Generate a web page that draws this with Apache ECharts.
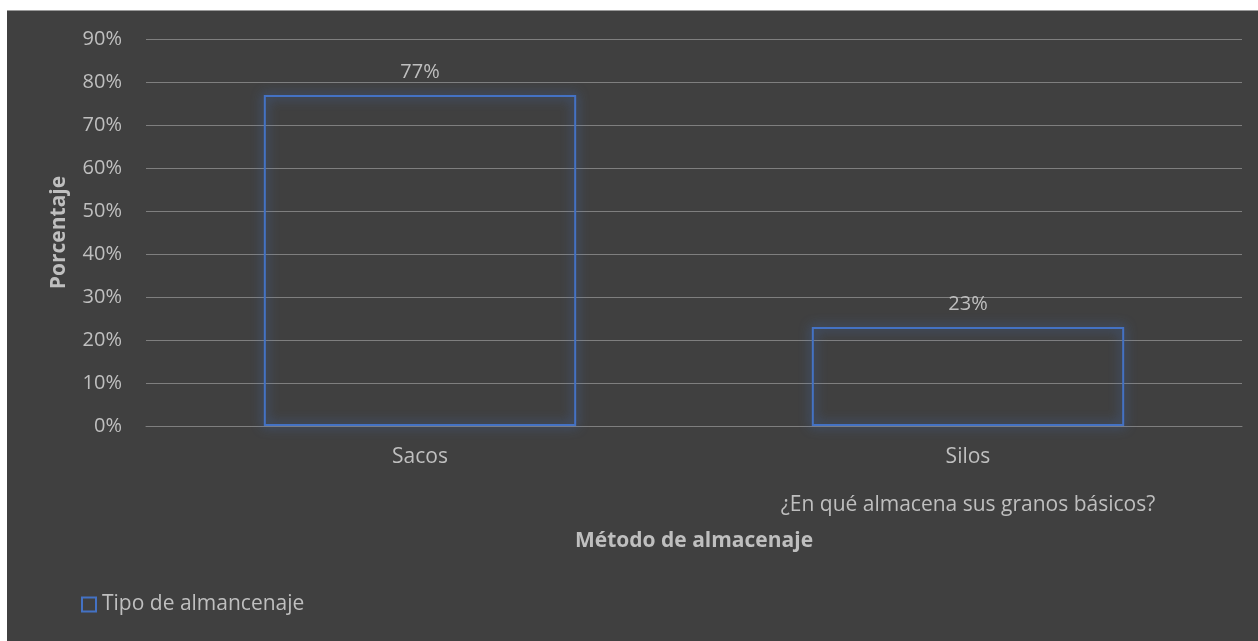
<!DOCTYPE html>
<html>
<head>
<meta charset="utf-8">
<script src="https://cdn.jsdelivr.net/npm/echarts@6/dist/echarts.min.js"></script>
<style>
html,body{margin:0;padding:0;background:#ffffff;}
#chart{position:absolute;left:7px;top:10px;width:1251px;height:631px;border-top:1px solid #9a9a9a;box-sizing:border-box;}
</style>
</head>
<body>
<div id="chart"></div>
<script>
var categories = ['Sacos', 'Silos'];
var subCategories = ['', '¿En qué almacena sus granos básicos?'];
var values = [77, 23];
var seriesName = 'Tipo de almancenaje';
var xTitle = 'Método de almacenaje';
var yTitle = 'Porcentaje';

var textColor = '#bfbfbf';
var font = 'Open Sans';
var fs = 21;
var chart = echarts.init(document.getElementById('chart'));
chart.setOption({
  backgroundColor: '#404040',
  animation: false,
  textStyle: {fontFamily: font},
  grid: {left: 139, right: 16, top: 28, bottom: 215},
  legend: {
    left: 69, top: 578,
    itemWidth: 14, itemHeight: 14, itemGap: 10,
    icon: 'rect',
    data: [{name: seriesName, itemStyle: {color: 'transparent', borderColor: '#4472c4', borderWidth: 2}}],
    textStyle: {color: textColor, fontSize: fs, fontFamily: font, padding: [0,0,0,1]}
  },
  xAxis: [{
    type: 'category',
    data: categories,
    axisLine: {show: true, lineStyle: {color: '#7f7f7f', width: 1}},
    axisTick: {show: false},
    axisLabel: {color: textColor, fontSize: fs, fontFamily: font, margin: 21},
    name: xTitle,
    nameLocation: 'middle',
    nameGap: 105,
    nameTextStyle: {color: textColor, fontSize: fs, fontWeight: 'bold', fontFamily: font}
  }, {
    type: 'category',
    data: subCategories,
    position: 'bottom',
    offset: 49,
    axisLine: {show: false},
    axisTick: {show: false},
    axisLabel: {color: textColor, fontSize: fs, fontFamily: font, margin: 20}
  }],
  yAxis: {
    type: 'value',
    min: 0, max: 90, interval: 10,
    axisLine: {show: false},
    axisTick: {show: false},
    axisLabel: {color: textColor, fontSize: 20, fontFamily: font, margin: 24, formatter: '{value}%'},
    splitLine: {lineStyle: {color: '#7f7f7f', width: 1}},
    name: yTitle,
    nameLocation: 'middle',
    nameGap: 76,
    nameTextStyle: {color: textColor, fontSize: fs, fontWeight: 'bold', fontFamily: font}
  },
  series: [{
    name: seriesName,
    type: 'bar',
    xAxisIndex: 0,
    data: values,
    barWidth: '57%',
    itemStyle: {
      color: 'transparent',
      borderColor: '#4472c4',
      borderWidth: 2,
      shadowBlur: 12,
      shadowColor: 'rgba(68,114,196,1)'
    },
    label: {
      show: true,
      position: 'top',
      distance: 13,
      color: textColor,
      fontSize: 20,
      fontFamily: font,
      formatter: '{c}%'
    }
  }]
});
</script>
</body>
</html>
